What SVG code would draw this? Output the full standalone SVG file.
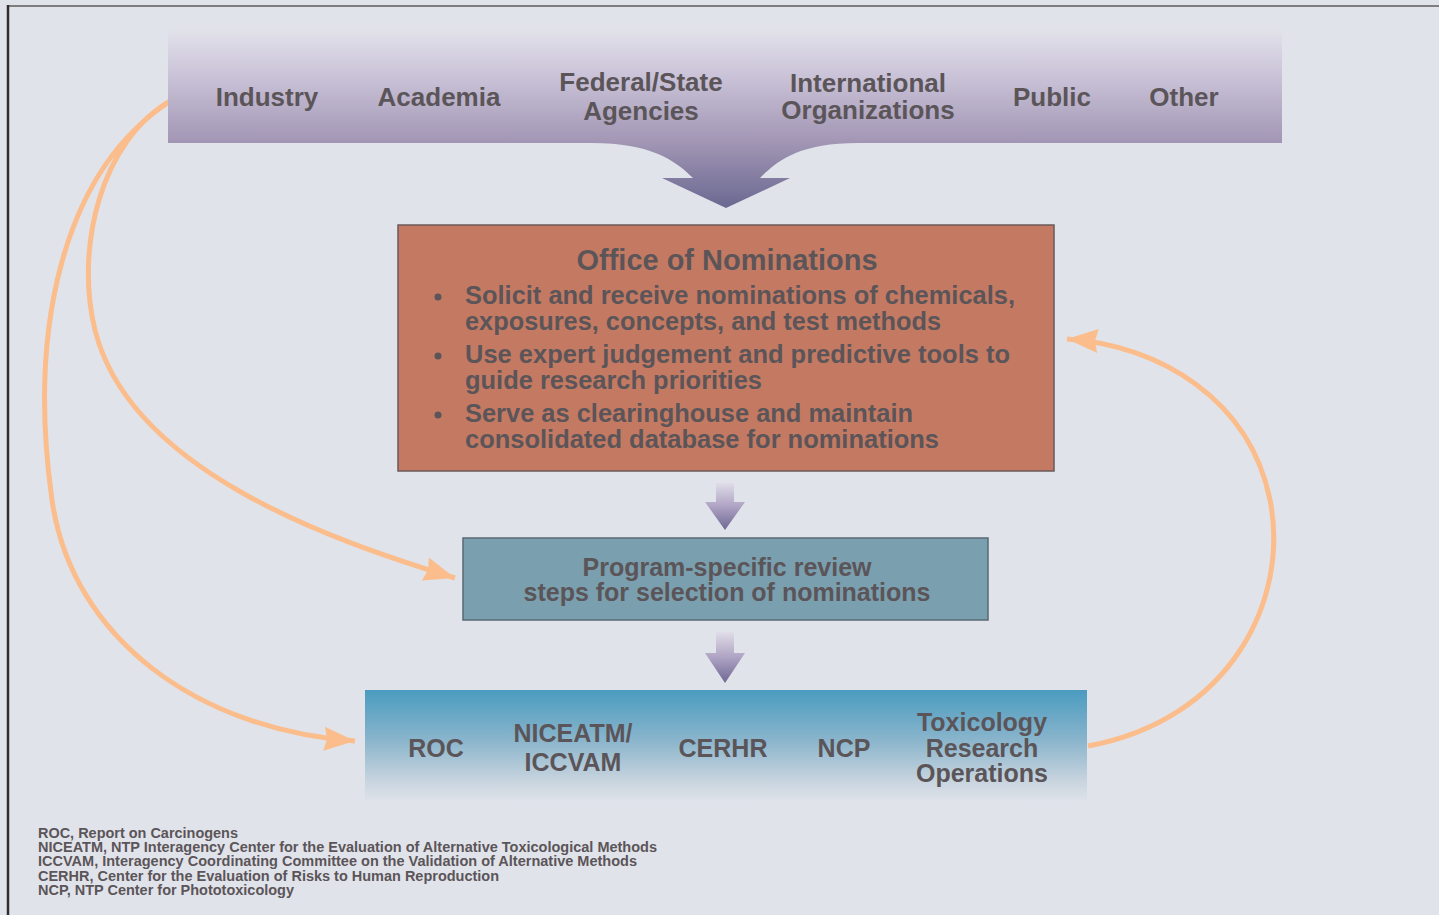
<svg xmlns="http://www.w3.org/2000/svg" width="1439" height="915" viewBox="0 0 1439 915">
<defs>
<linearGradient id="gBanner" x1="0" y1="30" x2="0" y2="208" gradientUnits="userSpaceOnUse">
<stop offset="0" stop-color="#e2e2ea"/>
<stop offset="0.25" stop-color="#cbc4d9"/>
<stop offset="0.62" stop-color="#a397b5"/>
<stop offset="1" stop-color="#6a6891"/>
</linearGradient>
<linearGradient id="gSmall" x1="0" y1="0" x2="0" y2="1">
<stop offset="0" stop-color="#e0dde8"/>
<stop offset="0.5" stop-color="#aea3c3"/>
<stop offset="1" stop-color="#6f6794"/>
</linearGradient>
<linearGradient id="gBottom" x1="0" y1="0" x2="0" y2="1">
<stop offset="0" stop-color="#4a9bc0"/>
<stop offset="0.45" stop-color="#8ab5cc"/>
<stop offset="0.8" stop-color="#c6d3de"/>
<stop offset="1" stop-color="#e0e3ea"/>
</linearGradient>
<marker id="ah" markerUnits="userSpaceOnUse" markerWidth="34" markerHeight="30" refX="31" refY="15" orient="auto">
<path d="M0,3 L31,15 L0,27 L3,15 z" fill="#fbbd8c"/>
</marker>
<style>
.lbl{font-family:"Liberation Sans",Arial,sans-serif;font-weight:bold;fill:#5b5559;text-anchor:middle}
.t26{font-size:26px}
.t25{font-size:25px}
.bul{font-family:"Liberation Sans",Arial,sans-serif;font-weight:bold;fill:#5b5559;font-size:25px}
.fn{font-family:"Liberation Sans",Arial,sans-serif;font-weight:bold;fill:#5b5559;font-size:14px}
.con{fill:none;stroke:#fbbd8c;stroke-width:5;marker-end:url(#ah)}
</style>
</defs>
<rect x="0" y="0" width="1439" height="915" fill="#e1e3ea"/>
<line x1="7" y1="6" x2="1439" y2="6" stroke="#7f7d7d" stroke-width="2"/>
<line x1="8" y1="5" x2="8" y2="915" stroke="#2e2e2e" stroke-width="2.5"/>

<g id="connectors">
<path class="con" d="M172,100 C62,170 28,330 52,500 C72,640 200,730 355,741"/>
<path class="con" d="M172,100 C100,140 75,250 95,330 C130,470 330,540 455,578"/>
<path class="con" d="M1088,746 C1230,720 1290,600 1270,500 C1250,400 1160,345 1067,339"/>
</g>

<g id="sources">
<path d="M168,30 H1282 V143 H858 C800,143 778,160 760,178 L790,178 L726,208 L662,178 L693,178 C675,160 650,143 592,143 H168 Z" fill="url(#gBanner)"/>
<text class="lbl t26" x="267" y="106">Industry</text>
<text class="lbl t26" x="439" y="106">Academia</text>
<text class="lbl t26" x="641" y="91">Federal/State</text>
<text class="lbl t26" x="641" y="120">Agencies</text>
<text class="lbl t26" x="868" y="92">International</text>
<text class="lbl t26" x="868" y="119">Organizations</text>
<text class="lbl t26" x="1052" y="106">Public</text>
<text class="lbl t26" x="1184" y="106">Other</text>
</g>

<g id="office">
<rect x="398" y="225" width="656" height="246" fill="#c47a62" stroke="#6a5a5a" stroke-width="1.5"/>
<text class="lbl" x="727" y="270" font-size="29px" textLength="301" lengthAdjust="spacingAndGlyphs">Office of Nominations</text>
<circle cx="438" cy="297" r="3.5" fill="#5b5559"/>
<circle cx="438" cy="356" r="3.5" fill="#5b5559"/>
<circle cx="438" cy="415" r="3.5" fill="#5b5559"/>
<text class="bul" x="465" y="304" textLength="550" lengthAdjust="spacingAndGlyphs">Solicit and receive nominations of chemicals,</text>
<text class="bul" x="465" y="330" textLength="476" lengthAdjust="spacingAndGlyphs">exposures, concepts, and test methods</text>
<text class="bul" x="465" y="363" textLength="545" lengthAdjust="spacingAndGlyphs">Use expert judgement and predictive tools to</text>
<text class="bul" x="465" y="389" textLength="297" lengthAdjust="spacingAndGlyphs">guide research priorities</text>
<text class="bul" x="465" y="422" textLength="448" lengthAdjust="spacingAndGlyphs">Serve as clearinghouse and maintain</text>
<text class="bul" x="465" y="448" textLength="474" lengthAdjust="spacingAndGlyphs">consolidated database for nominations</text>
</g>

<g id="arrow1">
<path d="M716,483 H734 V502 H745 L725,530 L705,502 H716 Z" fill="url(#gSmall)"/>
</g>

<g id="review">
<rect x="463" y="538" width="525" height="82" fill="#7a9fae" stroke="#5a6a73" stroke-width="1.5"/>
<text class="lbl t25" x="727" y="576">Program-specific review</text>
<text class="lbl t25" x="727" y="601">steps for selection of nominations</text>
</g>

<g id="arrow2">
<path d="M716,632 H734 V653 H745 L725,683 L705,653 H716 Z" fill="url(#gSmall)"/>
</g>

<g id="programs">
<rect x="365" y="690" width="722" height="112" fill="url(#gBottom)"/>
<text class="lbl t25" x="436" y="757">ROC</text>
<text class="lbl t25" x="573" y="742">NICEATM/</text>
<text class="lbl t25" x="573" y="771">ICCVAM</text>
<text class="lbl t25" x="723" y="757">CERHR</text>
<text class="lbl t25" x="844" y="757">NCP</text>
<text class="lbl t25" x="982" y="731">Toxicology</text>
<text class="lbl t25" x="982" y="757">Research</text>
<text class="lbl t25" x="982" y="782">Operations</text>
</g>

<g id="legend">
<text class="fn" x="38" y="838" textLength="200" lengthAdjust="spacingAndGlyphs">ROC, Report on Carcinogens</text>
<text class="fn" x="38" y="852" textLength="619" lengthAdjust="spacingAndGlyphs">NICEATM, NTP Interagency Center for the Evaluation of Alternative Toxicological Methods</text>
<text class="fn" x="38" y="866" textLength="599" lengthAdjust="spacingAndGlyphs">ICCVAM, Interagency Coordinating Committee on the Validation of Alternative Methods</text>
<text class="fn" x="38" y="881" textLength="461" lengthAdjust="spacingAndGlyphs">CERHR, Center for the Evaluation of Risks to Human Reproduction</text>
<text class="fn" x="38" y="895" textLength="256" lengthAdjust="spacingAndGlyphs">NCP, NTP Center for Phototoxicology</text>
</g>
</svg>
